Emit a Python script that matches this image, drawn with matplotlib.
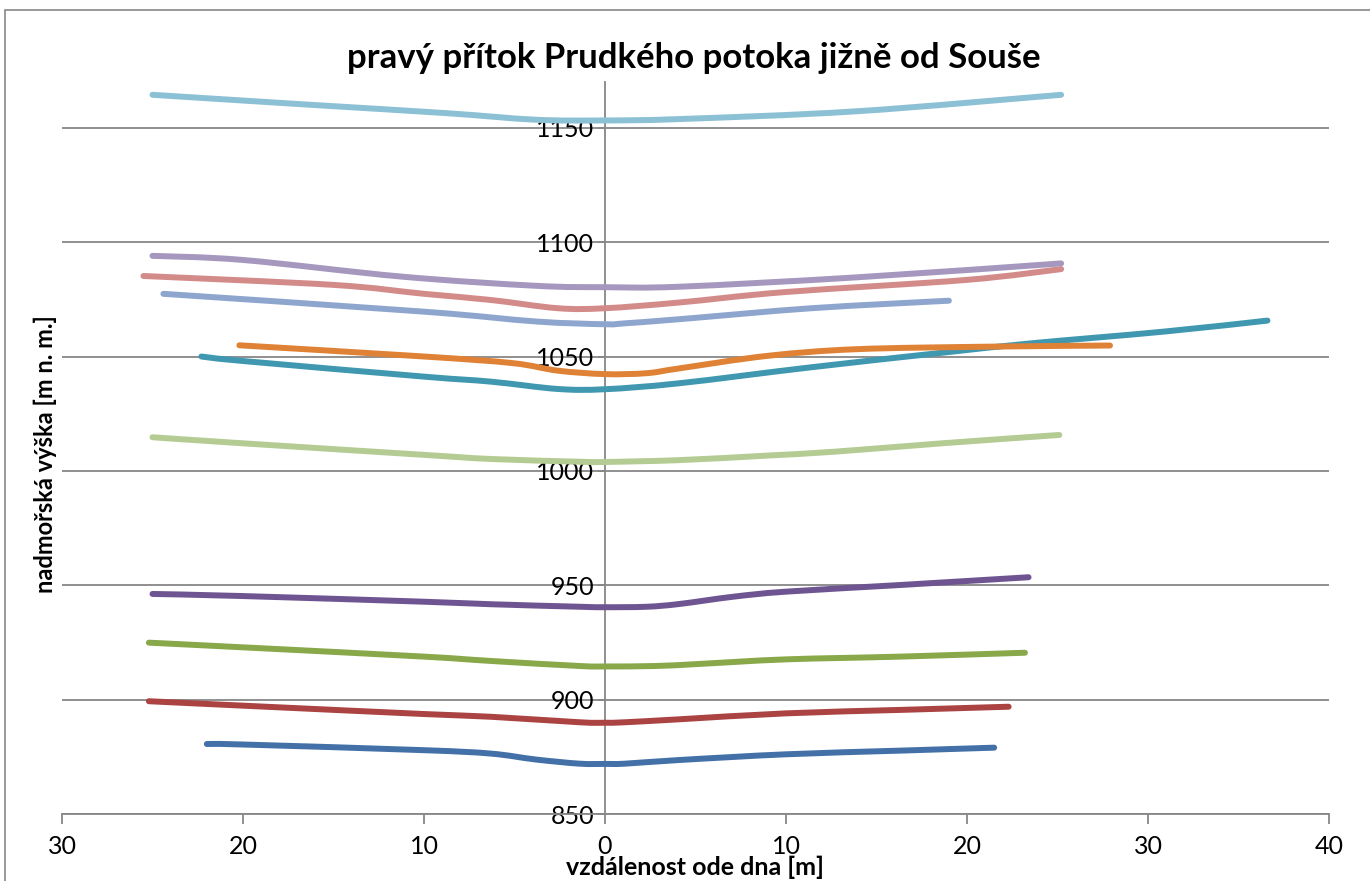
import numpy as np
import matplotlib.pyplot as plt
from matplotlib.patches import Rectangle, PathPatch
from matplotlib.path import Path
from matplotlib.ticker import FuncFormatter, MultipleLocator

plt.rcParams['font.family'] = ['Lato', 'DejaVu Sans']

TITLE = 'pravý přítok Prudkého potoka jižně od Souše'
XLABEL = 'vzdálenost ode dna [m]'
YLABEL = 'nadmořská výška [m n. m.]'

# profiles, distance from bed (left side negative) and altitude
s1_x = [-22.0, -20.1, -10.0, -6.3, -3.8, -1.4, 0.0, 1.1, 4.1, 10.0, 16.3, 21.5]
s1_y = [880.6, 880.4, 877.9, 876.4, 873.8, 872.0, 871.9, 872.0, 873.6, 876.1, 877.7, 879.0]

s2_x = [-25.2, -20.1, -10.0, -6.3, -1.4, 0.0, 1.1, 4.1, 10.0, 16.3, 22.3]
s2_y = [899.3, 897.4, 893.7, 892.5, 890.1, 889.9, 890.1, 891.4, 894.0, 895.5, 896.9]

s3_x = [-25.2, -20.1, -10.0, -6.3, -1.4, 0.0, 2.8, 5.2, 10.0, 16.3, 23.2]
s3_y = [924.9, 922.9, 918.8, 916.9, 914.7, 914.5, 914.7, 915.6, 917.6, 918.8, 920.5]

s4_x = [-25.0, -20.1, -10.0, -6.3, -1.4, 0.0, 2.3, 4.1, 7.1, 10.0, 16.3, 23.4]
s4_y = [946.2, 945.3, 942.8, 941.7, 940.6, 940.4, 940.6, 941.8, 945.0, 947.2, 950.1, 953.5]

s5_x = [-22.3, -20.1, -10.0, -6.3, -2.6, 0.0, 4.1, 11.4, 18.7, 23.6, 30.9, 36.6]
s5_y = [1050.0, 1048.1, 1041.2, 1039.0, 1035.8, 1035.7, 1038.3, 1045.3, 1051.7, 1055.8, 1060.9, 1065.7]

s6_x = [-20.2, -10.0, -5.1, -2.6, 0.0, 2.3, 4.1, 9.0, 13.9, 21.2, 27.9]
s6_y = [1054.9, 1050.0, 1047.1, 1043.8, 1042.3, 1042.7, 1044.8, 1050.3, 1053.2, 1054.3, 1054.8]

s7_x = [-24.4, -10.0, -3.8, 0.0, 1.1, 4.1, 11.4, 19.0]
s7_y = [1077.4, 1069.6, 1065.3, 1064.1, 1064.5, 1066.3, 1071.1, 1074.4]

s8_x = [-25.5, -15.0, -10.0, -6.3, -2.6, 0.0, 4.1, 10.0, 20.0, 25.2]
s8_y = [1085.2, 1081.3, 1077.4, 1074.7, 1071.1, 1071.1, 1073.6, 1078.2, 1083.5, 1088.2]

s9_x = [-25.0, -20.1, -10.0, -6.3, -1.4, 0.0, 4.1, 9.0, 12.7, 18.7, 25.1]
s9_y = [1014.7, 1012.1, 1007.0, 1005.2, 1004.0, 1003.9, 1004.7, 1006.7, 1008.4, 1012.1, 1015.7]

s10_x = [-25.0, -20.0, -11.2, -3.8, 0.0, 4.1, 13.9, 25.2]
s10_y = [1094.0, 1092.2, 1084.9, 1080.9, 1080.3, 1080.5, 1084.6, 1090.7]

s11_x = [-25.0, -16.2, -8.8, -3.8, 0.0, 4.1, 13.9, 25.2]
s11_y = [1164.4, 1160.0, 1156.4, 1153.5, 1153.2, 1153.8, 1157.2, 1164.4]

SERIES = [
    (s1_x, s1_y, '#4470a8'),
    (s2_x, s2_y, '#aa4341'),
    (s3_x, s3_y, '#88a849'),
    (s4_x, s4_y, '#6e5592'),
    (s5_x, s5_y, '#3f97b0'),
    (s6_x, s6_y, '#df8236'),
    (s7_x, s7_y, '#8ea6ce'),
    (s8_x, s8_y, '#d38b8a'),
    (s9_x, s9_y, '#b4cc93'),
    (s10_x, s10_y, '#a597be'),
    (s11_x, s11_y, '#8cc0d4'),
]

GRID = '#878787'


def smooth_path(x, y, k=1 / 6):
    # bezier curve through the points, like a "smoothed line" in a spreadsheet chart
    pts = np.column_stack([x, y])
    n = len(pts)
    verts = [pts[0]]
    codes = [Path.MOVETO]
    for i in range(n - 1):
        p0, p1 = pts[max(i - 1, 0)], pts[i]
        p2, p3 = pts[i + 1], pts[min(i + 2, n - 1)]
        verts += [p1 + (p2 - p0) * k, p2 - (p3 - p1) * k, p2]
        codes += [Path.CURVE4] * 3
    return Path(verts, codes)


fig = plt.figure(figsize=(13.7, 8.81), dpi=100)
ax = fig.add_axes([62 / 1370, 1 - 814 / 881, (1329 - 62) / 1370, (814 - 82) / 881])

# outer chart frame (cut off at right and bottom in the original)
fig.patches.append(Rectangle((5 / 1370, -0.1), 1.2, 1.1 - 10 / 881, transform=fig.transFigure,
                             fill=False, edgecolor=GRID, linewidth=1.2))

for x, y, color in SERIES:
    ax.add_patch(PathPatch(smooth_path(x, y), fill=False, edgecolor=color, linewidth=4.3,
                           capstyle='round', joinstyle='round', zorder=3))

ax.set_xlim(-30, 40)
ax.set_ylim(850, 1170)
ax.xaxis.set_major_locator(MultipleLocator(10))
ax.yaxis.set_major_locator(MultipleLocator(50))
ax.xaxis.set_major_formatter(FuncFormatter(lambda v, p: f'{abs(v):.0f}'))
ax.yaxis.set_major_formatter(FuncFormatter(lambda v, p: f'{v:.0f}'))

ax.grid(axis='y', color=GRID, linewidth=1.3, zorder=1)
ax.set_axisbelow(True)

for side in ['top', 'right']:
    ax.spines[side].set_visible(False)
ax.spines['left'].set_position(('data', 0))
ax.spines['left'].set_color(GRID)
ax.spines['left'].set_linewidth(1.3)
ax.spines['bottom'].set_color(GRID)
ax.spines['bottom'].set_linewidth(1.3)

ax.tick_params(axis='x', direction='out', length=7, width=1.3, color=GRID, labelsize=18, pad=8)
ax.tick_params(axis='y', direction='out', length=5, width=1.3, color=GRID, labelsize=18, pad=3)

fig.text(694 / 1370, 1 - 58 / 881, TITLE, ha='center', va='center', fontsize=25, fontweight='bold')
fig.text(695 / 1370, 1 - 867 / 881, XLABEL, ha='center', va='center', fontsize=18, fontweight='bold')
fig.text(45 / 1370, 1 - 454 / 881, YLABEL, ha='center', va='center', rotation=90, fontsize=17, fontweight='bold')

fig.savefig('out.png', dpi=100)
